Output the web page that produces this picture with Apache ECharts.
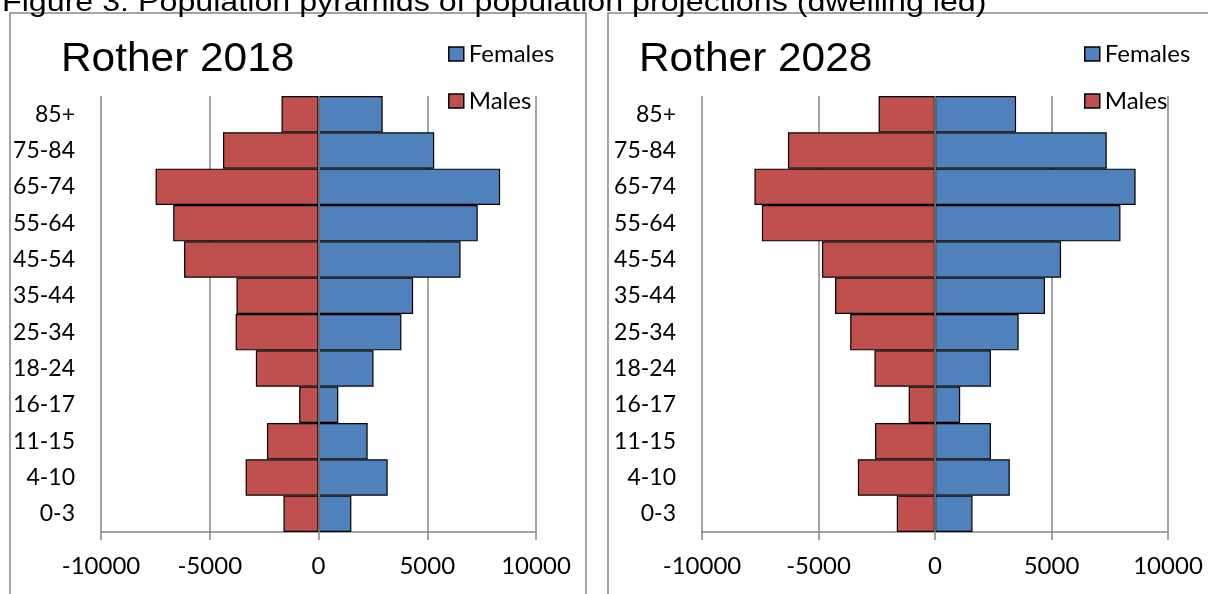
<!DOCTYPE html>
<html>
<head>
<meta charset="utf-8">
<title>Population pyramids – Rother</title>
<script src="https://cdn.jsdelivr.net/npm/echarts@6/dist/echarts.min.js"></script>
<style>
  html, body { margin: 0; padding: 0; background: #fff; }
  #chart { width: 1208px; height: 594px; }
</style>
</head>
<body>
<div id="chart"></div>
<script>
// Age bands, listed bottom-to-top as the category axis draws them
const ageBands = ['0-3', '4-10', '11-15', '16-17', '18-24', '25-34', '35-44', '45-54', '55-64', '65-74', '75-84', '85+'];

// Rother 2018 population by sex
const males2018   = [1610, 3350, 2370, 890, 2880, 3810, 3770, 6180, 6680, 7490, 4390, 1700];
const females2018 = [1510, 3180, 2260, 910, 2530, 3810, 4350, 6530, 7320, 8350, 5320, 2950];

// Rother 2028 projection (dwelling led)
const males2028   = [1640, 3310, 2570, 1130, 2600, 3640, 4290, 4850, 7430, 7750, 6310, 2420];
const females2028 = [1610, 3210, 2400, 1080, 2400, 3590, 4720, 5410, 7960, 8610, 7370, 3480];

const xTicks = { min: -10000, max: 10000, step: 5000 };

const panelTitles = ['Rother 2018', 'Rother 2028'];
const caption = 'Figure 3: Population pyramids of population projections (dwelling led)';

const RED = '#C0504D';
const BLUE = '#4F81BD';
const GREY = '#878787';
const LABEL_FONT = 'Lato, "Open Sans", sans-serif';

const chart = echarts.init(document.getElementById('chart'), null, { renderer: 'canvas' });

const grids = [
  { left: 101, width: 435, top: 96, bottom: 62 },
  { left: 702, width: 466, top: 96, bottom: 62 }
];

function xAxisFor(i) {
  return {
    type: 'value', gridIndex: i,
    min: xTicks.min, max: xTicks.max, interval: xTicks.step,
    axisLine: { show: true, lineStyle: { color: GREY, width: 1.5 } },
    axisTick: { show: true, length: 8, lineStyle: { color: GREY, width: 1.5 } },
    splitLine: { show: true, lineStyle: { color: GREY, width: 1.5 } },
    axisLabel: {
      color: '#000', fontFamily: LABEL_FONT, fontSize: 24, margin: 22,
      formatter: v => String(v)
    }
  };
}

function yAxisFor(i) {
  return {
    type: 'category', gridIndex: i, data: ageBands,
    axisLine: { show: false }, axisTick: { show: false }, splitLine: { show: false },
    axisLabel: { color: '#000', fontFamily: LABEL_FONT, fontSize: 23, margin: 26 }
  };
}

function barSeries(name, values, color, i, negate, withZeroLine) {
  const s = {
    name, type: 'bar', xAxisIndex: i, yAxisIndex: i,
    data: values.map(v => negate ? -v : v),
    barGap: '-100%', barCategoryGap: '0%',
    itemStyle: { color, borderColor: '#000', borderWidth: 1.2 },
    emphasis: { disabled: true },
    animation: false
  };
  if (withZeroLine) {
    s.markLine = {
      silent: true, symbol: 'none', animation: false,
      label: { show: false },
      lineStyle: { color: GREY, width: 1.5, type: 'solid' },
      data: [{ xAxis: 0 }]
    };
  }
  return s;
}

function legendFor(left) {
  return {
    data: ['Females', 'Males'],
    orient: 'vertical', left, top: 42, padding: 0,
    itemWidth: 15, itemHeight: 14, itemGap: 23,
    icon: 'rect',
    itemStyle: { borderColor: '#000', borderWidth: 1.5 },
    textStyle: { color: '#000', fontFamily: LABEL_FONT, fontSize: 24 },
    selectedMode: false
  };
}

function panelFrame(x, w) {
  return {
    type: 'rect', shape: { x, y: 13, width: w, height: 600 },
    style: { fill: 'none', stroke: GREY, lineWidth: 1.5 }, silent: true
  };
}

function titleText(text, x) {
  return {
    type: 'text', x, y: 60, scaleX: 1.06, silent: true,
    style: { text, fill: '#000', font: '40px "Liberation Sans", Arial, sans-serif', verticalAlign: 'middle' }
  };
}

chart.setOption({
  backgroundColor: '#fff',
  animation: false,
  grid: grids,
  xAxis: [xAxisFor(0), xAxisFor(1)],
  yAxis: [yAxisFor(0), yAxisFor(1)],
  legend: [legendFor(448), legendFor(1084)],
  series: [
    barSeries('Males', males2018, RED, 0, true, false),
    barSeries('Females', females2018, BLUE, 0, false, true),
    barSeries('Males', males2028, RED, 1, true, false),
    barSeries('Females', females2028, BLUE, 1, false, true)
  ],
  graphic: [
    panelFrame(10, 576),
    panelFrame(608, 620),
    titleText(panelTitles[0], 61),
    titleText(panelTitles[1], 639),
    {
      type: 'text', x: 2, y: 17, scaleX: 1.15, silent: true,
      style: { text: caption, fill: '#000', font: '28px "Liberation Sans", Arial, sans-serif', verticalAlign: 'bottom' }
    }
  ]
});
</script>
</body>
</html>
